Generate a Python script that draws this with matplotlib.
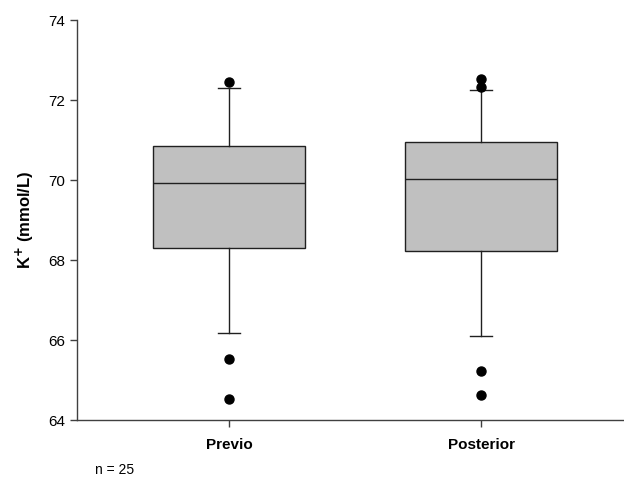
import matplotlib
matplotlib.use('Agg')
import matplotlib.pyplot as plt

plt.rcParams['font.family'] = ['Liberation Sans', 'DejaVu Sans']

groups = ['Previo', 'Posterior']
q1 = [68.31, 68.22]
med = [69.92, 70.02]
q3 = [70.86, 70.96]
whislo = [66.18, 66.11]
whishi = [72.31, 72.25]
fliers = [[72.44, 65.53, 64.53], [72.53, 72.33, 65.23, 64.63]]

stats = []
for i in range(len(groups)):
    stats.append({'label': groups[i], 'q1': q1[i], 'med': med[i], 'q3': q3[i],
                  'whislo': whislo[i], 'whishi': whishi[i], 'fliers': fliers[i]})

fig = plt.figure(figsize=(6.24, 4.8), dpi=100)
ax = fig.add_axes([0.1234, 0.125, 0.8766, 0.8333])

ax.bxp(stats, positions=[1, 2], widths=0.6, capwidths=0.09, patch_artist=True,
       boxprops=dict(facecolor='#c0c0c0', edgecolor='#202020', linewidth=1.0),
       medianprops=dict(color='#202020', linewidth=1.0),
       whiskerprops=dict(color='#202020', linewidth=1.0),
       capprops=dict(color='#202020', linewidth=1.0),
       flierprops=dict(marker='o', markerfacecolor='black', markeredgecolor='black',
                       markersize=6.5, linestyle='none'))

ax.set_xlim(0.397, 2.567)
ax.set_ylim(64, 74)
ax.set_yticks([64, 66, 68, 70, 72, 74])
ax.spines['top'].set_visible(False)
ax.spines['right'].set_visible(False)
for s in ['left', 'bottom']:
    ax.spines[s].set_color('#404040')
    ax.spines[s].set_linewidth(1.0)
ax.tick_params(direction='out', length=5, width=1, color='#404040', labelsize=11)
ax.tick_params(axis='x', pad=8)
for lbl in ax.get_xticklabels():
    lbl.set_fontweight('bold')
ax.set_ylabel('K$^{\\mathbf{+}}$ (mmol/L)', fontsize=12, fontweight='bold', labelpad=9)

fig.text(95 / 624, 1 - 470 / 480, 'n = 25', fontsize=10, va='center', ha='left')

fig.savefig('out.png', dpi=100)
